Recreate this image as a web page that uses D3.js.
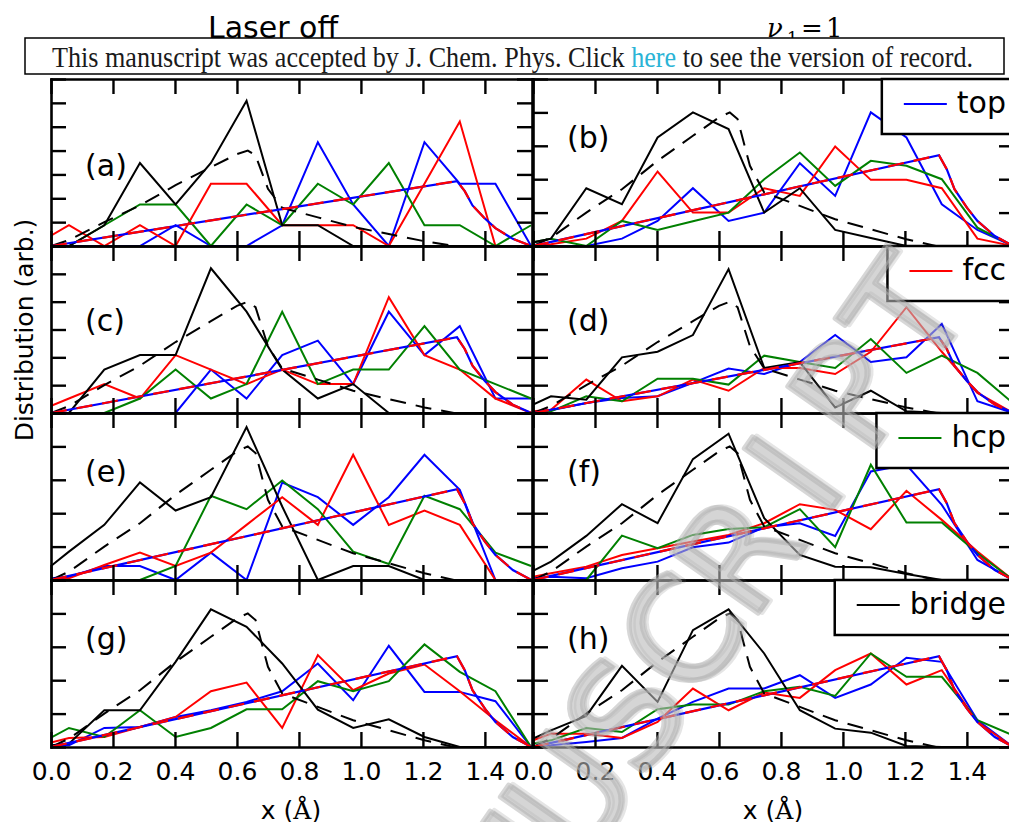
<!DOCTYPE html>
<html><head><meta charset="utf-8">
<script src="https://cdn.jsdelivr.net/npm/d3@7"></script>
<style>html,body{margin:0;padding:0;background:#fff;overflow:hidden}</style>
</head><body>
<svg id="chart" width="1009" height="822" xmlns="http://www.w3.org/2000/svg"></svg>
<script>
// ---------- data ----------
const xs = [-0.057, 0.058, 0.172, 0.287, 0.402, 0.516, 0.631, 0.746, 0.861, 0.975, 1.090, 1.205, 1.319, 1.434, 1.549];
const xTicks = [0.0, 0.2, 0.4, 0.6, 0.8, 1.0, 1.2, 1.4];
const seriesNames = ["top", "fcc", "hcp", "bridge"];
const panelLabels = ["(a)", "(b)", "(c)", "(d)", "(e)", "(f)", "(g)", "(h)"];
const panelYMax = [7, 5, 6, 6, 5, 5, 5, 5];

const topA    = [0,0,0,0,0.87,0,0,0.87,4.35,1.74,0,4.35,2.61,2.61,0];
const fccA    = [0,0.87,0,0.87,0,2.61,2.61,0.87,0.87,0.87,0,2.61,5.22,0,0];
const hcpA    = [0,0,0.87,1.74,1.74,0,1.74,0.87,2.61,1.74,3.48,0.87,0.87,0,0.87];
const bridgeA = [0,0,0.87,3.48,1.74,3.48,6.09,0.87,0.87,0,0,0,0,0,0];

const topB    = [0,0,0,0.22,0.75,1.73,0.75,1.0,2.48,1.5,4.0,3.25,1.25,0.48,0];
const fccB    = [0,0.05,0.22,0.75,2.23,1.0,1.0,1.73,1.5,2.98,1.98,1.98,1.73,0.22,0];
const hcpB    = [0,0.22,0,0.75,0.48,0.74,1.0,2.0,2.8,1.8,2.55,2.4,2.0,0.55,0];
const bridgeB = [0,0.22,1.73,1.25,3.25,4.0,3.5,1.0,1.73,0.48,0.24,0,0,0,0];

const topC    = [0,0,0,0,0,1.56,0.52,2.08,2.6,1.04,3.64,2.08,3.12,0.52,0.52];
const fccC    = [0,0.52,1.04,0.52,2.08,1.56,1.04,1.56,1.04,1.04,4.16,2.08,1.56,0.52,0];
const hcpC    = [0,0,0,0.52,1.56,0.52,1.04,3.64,1.04,1.56,1.56,3.12,1.56,1.04,0.52];
const bridgeC = [0,0,1.56,2.08,2.08,5.2,3.64,1.56,0.52,1.04,0,0,0,0,0];

const topD    = [0,0.1,0.36,0.54,0.6,1.08,1.6,1.4,1.83,2.8,1.83,2.0,3.2,0.42,0];
const fccD    = [0,0.12,1.2,0.42,0.6,1.2,0.8,1.62,1.62,1.4,2.2,3.8,2.2,0.72,0];
const hcpD    = [0,0.06,0.6,0.42,1.23,1.23,1.02,2.06,1.83,1.62,2.66,1.44,2.06,1.44,0.35];
const bridgeD = [0,0.6,0.48,2.0,2.2,2.8,5.17,1.62,1.83,0.2,0.8,0.06,0,0,0];

const topE    = [0,0.1,0.42,0.42,0,0.82,0,2.92,2.48,1.65,2.48,3.75,2.7,0,0];
const fccE    = [0,0.05,0.45,0.82,0.42,0.82,1.65,2.48,1.65,3.75,1.65,2.08,1.65,0,0];
const hcpE    = [0,0,0,0,0.42,2.52,2.12,2.98,2.12,0.85,0.48,2.52,2.12,0.82,0.42];
const bridgeE = [0,0.85,1.65,2.92,2.08,2.48,4.58,2.2,0,0.42,0.42,0,0,0,0];

const topF    = [0,0.1,0.05,0.35,0.55,0.98,1.12,1.58,1.7,1.32,3.25,3.45,2.25,0.6,0];
const fccF    = [0,0.2,0.4,0.75,0.95,1.15,1.35,1.7,2.27,2.1,1.52,2.67,1.8,0.85,0];
const hcpF    = [0,0,0,1.33,0.95,1.35,1.53,1.58,2.12,0.98,3.45,1.72,1.72,0.8,0];
const bridgeF = [0,0.55,1.32,2.27,1.7,3.62,4.38,1.85,0.75,0.4,0.38,0.18,0,0,0];

const topG    = [0,0.05,0.57,0.6,0.9,1.1,1.35,1.67,2.5,1.4,3.03,1.65,1.65,1.37,0];
const fccG    = [0,0.27,0.3,0.6,0.9,1.67,1.93,0.57,2.75,1.7,2.2,2.47,1.67,0.8,0];
const hcpG    = [0,0.57,0.3,1.1,0.3,0.57,1.13,1.13,1.97,1.67,1.97,3.07,2.25,1.67,0];
const bridgeG = [0,0.1,1.1,1.1,2.55,4.12,3.6,2.5,1.12,0.57,0.83,0.3,0,0,0];

const topH    = [0,0.05,0.15,0.27,0.85,1.35,1.75,1.75,2.15,1.47,1.87,2.67,2.55,0.8,0];
const fccH    = [0,0.4,0.4,0.27,0.75,1.75,1.1,1.63,1.47,2.3,2.8,1.87,2.3,0.75,0];
const hcpH    = [0,0.2,0.57,0.45,1.13,1.27,1.27,1.67,1.8,1.53,2.8,2.1,2.1,0.8,0.35];
const bridgeH = [0,0.5,0.93,2.43,1.35,3.5,4.12,2.8,1.1,0.55,0.43,0.03,0,0,0];

// model curves (dashed)
const bridgeModelX = [0, 0.058, 0.172, 0.287, 0.402, 0.516, 0.60, 0.635, 0.66, 0.70, 0.746, 0.861, 0.975, 1.09, 1.205, 1.30, 1.56];
const bridgeModelY = [0, 0.25, 1.0, 1.7, 2.55, 3.3, 3.85, 4.0, 3.8, 2.4, 1.6, 1.2, 0.8, 0.5, 0.2, 0.0, 0.0];
const siteModelX = [0, 1.31, 1.335, 1.36, 1.40, 1.434, 1.49, 1.55];
const siteModelY = [0, 2.72, 2.3, 1.7, 1.15, 0.75, 0.3, 0];

const legendLabels = ["top", "fcc", "hcp", "bridge"];

// ---------- layout ----------
const svg = d3.select("#chart");
const FONT = "DejaVu Sans";
const colX0 = [51, 533], panelW = 481, rowTop = [79, 246, 413, 580], panelH = 167;
const xMax = 1.552;
const colors = ["#0000ff", "#ff0000", "#008000", "#000000"];

const allSeries = [
  [topA, fccA, hcpA, bridgeA], [topB, fccB, hcpB, bridgeB],
  [topC, fccC, hcpC, bridgeC], [topD, fccD, hcpD, bridgeD],
  [topE, fccE, hcpE, bridgeE], [topF, fccF, hcpF, bridgeF],
  [topG, fccG, hcpG, bridgeG], [topH, fccH, hcpH, bridgeH]
];
const panels = panelLabels.map((lab, i) => ({
  lab, ymax: panelYMax[i], series: allSeries[i], col: i % 2, row: Math.floor(i / 2)
}));

const defs = svg.append("defs");

panels.forEach((p, i) => {
  const x0 = colX0[p.col], y0 = rowTop[p.row];
  const x = d3.scaleLinear().domain([0, xMax]).range([x0, x0 + panelW]);
  const y = d3.scaleLinear().domain([0, p.ymax]).range([y0 + panelH, y0]);
  const cid = "clip" + i;
  defs.append("clipPath").attr("id", cid).append("rect")
    .attr("x", x0).attr("y", y0).attr("width", panelW).attr("height", panelH);
  const g = svg.append("g");
  const plot = g.append("g").attr("clip-path", `url(#${cid})`);
  const line = d3.line().x((d, k) => x(xs[k])).y(d => y(d));
  p.series.forEach((s, si) => {
    plot.append("path").attr("d", line(s)).attr("fill", "none")
      .attr("stroke", colors[si]).attr("stroke-width", 2).attr("stroke-linejoin", "miter");
  });
  const bm = d3.line().x((d, k) => x(bridgeModelX[k])).y(d => y(d));
  plot.append("path").attr("d", bm(bridgeModelY)).attr("fill", "none")
    .attr("stroke", "#000").attr("stroke-width", 2).attr("stroke-dasharray", "16,10");
  const sm = d3.line().x((d, k) => x(siteModelX[k])).y(d => y(d));
  plot.append("path").attr("d", sm(siteModelY)).attr("fill", "none")
    .attr("stroke", "#0000ff").attr("stroke-width", 2.2);
  plot.append("path").attr("d", sm(siteModelY)).attr("fill", "none")
    .attr("stroke", "#ff0000").attr("stroke-width", 2.2).attr("stroke-dasharray", "16,10");

  // panel label
  g.append("text").attr("x", x(0.11)).attr("y", y(2.93))
    .attr("font-family", FONT).attr("font-size", 30).text(p.lab);

  // axes
  const styleAxis = sel => {
    sel.attr("font-family", FONT).attr("font-size", 25);
    sel.selectAll(".domain").attr("stroke", "#000").attr("stroke-width", 2.6).attr("stroke-linecap", "square");
    sel.selectAll(".tick line").attr("stroke", "#000").attr("stroke-width", 2.4);
    sel.selectAll(".tick text").attr("fill", "#000");
  };
  const yTicks = d3.range(0, p.ymax + 1);
  const isBottom = p.row === 3;
  g.append("g").attr("transform", `translate(0,${y0 + panelH})`)
    .call(d3.axisBottom(x).tickValues(xTicks).tickSize(-15).tickSizeOuter(0).tickPadding(15)
      .tickFormat(isBottom ? d3.format(".1f") : () => ""))
    .call(styleAxis);
  g.append("g").attr("transform", `translate(0,${y0})`)
    .call(d3.axisTop(x).tickValues(xTicks).tickSize(-15).tickSizeOuter(0).tickFormat(() => ""))
    .call(styleAxis);
  g.append("g").attr("transform", `translate(${x0},0)`)
    .call(d3.axisLeft(y).tickValues(yTicks).tickSize(-15).tickSizeOuter(0).tickFormat(() => ""))
    .call(styleAxis);
  g.append("g").attr("transform", `translate(${x0 + panelW},0)`)
    .call(d3.axisRight(y).tickValues(yTicks).tickSize(-15).tickSizeOuter(0).tickFormat(() => ""))
    .call(styleAxis);

  // legend (right column)
  if (p.col === 1) {
    const li = p.row;
    const lg = svg.append("g");
    const rect = lg.append("rect");
    const ln = lg.append("line");
    const t = lg.append("text").attr("x", 1006).attr("y", y0 + 34).attr("text-anchor", "end")
      .attr("font-family", FONT).attr("font-size", 30).attr("fill", "#000").text(legendLabels[li]);
    const tw = t.node().getComputedTextLength();
    const left = 1006 - tw - 75;
    rect.attr("x", left).attr("y", y0).attr("width", 1020 - left).attr("height", 55)
      .attr("fill", "#fff").attr("stroke", "#000").attr("stroke-width", 2.5);
    ln.attr("x1", left + 22).attr("x2", left + 65).attr("y1", y0 + 25).attr("y2", y0 + 25)
      .attr("stroke", colors[li]).attr("stroke-width", 2.2);
  }
});

// axis titles
svg.append("text").attr("transform", "translate(33,330) rotate(-90)").attr("text-anchor", "middle")
  .attr("font-family", FONT).attr("font-size", 25).text("Distribution (arb.)");
[291, 773].forEach(cx => {
  const t = svg.append("text").attr("x", cx).attr("y", 819).attr("text-anchor", "middle")
    .attr("font-family", FONT).attr("font-size", 25);
  t.append("tspan").text("x (");
  t.append("tspan").attr("font-family", "DejaVu Serif").text("Å");
  t.append("tspan").text(")");
});

// titles
svg.append("text").attr("x", 208).attr("y", 38).attr("font-family", FONT).attr("font-size", 30).text("Laser off");
const nu = svg.append("g").attr("font-family", "DejaVu Serif").attr("fill", "#000");
nu.append("text").attr("x", 767).attr("y", 37).attr("font-size", 26).attr("font-style", "italic").text("ν");
nu.append("text").attr("x", 787).attr("y", 44).attr("font-size", 17).text("1");
nu.append("text").attr("x", 801).attr("y", 37).attr("font-size", 26).text("=");
nu.append("text").attr("x", 826).attr("y", 37).attr("font-size", 26).text("1");

// watermark (light grey tube letters)
const wmText = "MANUSCRIPT".split("");
const ang = -55 * Math.PI / 180, step = 98, sIdx = 4, sC = [625, 715];
const wm = svg.append("g").attr("font-family", FONT).attr("font-weight", "normal").attr("font-size", 145)
  .attr("stroke-linejoin", "round");
wmText.forEach((ch, i) => {
  const cx = sC[0] + (i - sIdx) * step * Math.cos(ang);
  const cy = sC[1] + (i - sIdx) * step * Math.sin(ang);
  wm.append("text").attr("x", 3).attr("y", 3).attr("text-anchor", "middle").attr("dominant-baseline", "central")
    .attr("transform", `translate(${cx},${cy}) rotate(-55)`)
    .attr("fill", "#6f6f6f").attr("fill-opacity", 0.18)
    .attr("stroke", "#6f6f6f").attr("stroke-opacity", 0.18).attr("stroke-width", 5).text(ch);
  wm.append("text").attr("x", 0).attr("y", 0).attr("text-anchor", "middle").attr("dominant-baseline", "central")
    .attr("transform", `translate(${cx},${cy}) rotate(-55)`)
    .attr("fill", "#c6c6c6").attr("fill-opacity", 0.5)
    .attr("stroke", "#b0b0b0").attr("stroke-opacity", 0.5).attr("stroke-width", 5)
    .text(ch);
});

// banner
const bn = svg.append("g");
bn.append("rect").attr("x", 25).attr("y", 38).attr("width", 979).attr("height", 36)
  .attr("fill", "#fff").attr("stroke", "#000").attr("stroke-width", 1.5);
const bt = bn.append("text").attr("x", 52).attr("y", 67).attr("font-family", "Liberation Serif")
  .attr("font-size", 29).attr("fill", "#1a1a1a")
  .attr("textLength", 921).attr("lengthAdjust", "spacingAndGlyphs");
bt.append("tspan").text("This manuscript was accepted by J. Chem. Phys. Click ");
bt.append("tspan").attr("fill", "#2ab4d6").text("here");
bt.append("tspan").text(" to see the version of record.");
</script>
</body></html>
